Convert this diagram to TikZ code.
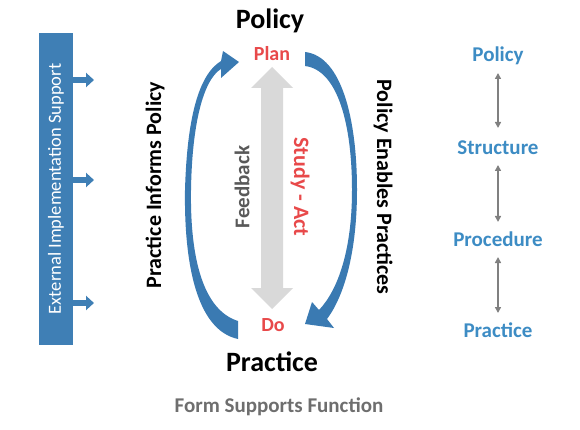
\documentclass[tikz,border=0pt]{standalone}
\usepackage{fontspec}
\setmainfont{Carlito}
\usetikzlibrary{arrows.meta}
\definecolor{barblue}{HTML}{3F7FB5}
\definecolor{arcblue}{HTML}{3A7AB2}
\definecolor{lblblue}{HTML}{3D8CC4}
\definecolor{redtxt}{HTML}{E8494A}
\definecolor{lgray}{HTML}{D9D9D9}
\definecolor{dgray}{HTML}{595959}
\definecolor{mgray}{HTML}{6E6E6E}
\definecolor{agray}{HTML}{808080}
\tikzset{
  big/.style={font=\bfseries\fontsize{28}{30}\selectfont, text=black},
  pdsa/.style={font=\bfseries\fontsize{20}{22}\selectfont, text=redtxt},
  side/.style={font=\bfseries\fontsize{22}{24}\selectfont, text=black},
  lvl/.style={font=\bfseries\fontsize{21}{23}\selectfont, text=lblblue},
  lvlarrow/.style={draw=agray, line width=1.8pt, {Triangle[width=6pt,length=6pt]}-{Triangle[width=6pt,length=6pt]}},
  barrow/.style={draw=barblue, line width=6pt, -{Triangle[width=14pt,length=8pt]}},
  arcshape/.style={fill=arcblue},
}
\begin{document}
\begin{tikzpicture}[x=1pt,y=-1pt]
\useasboundingbox (0,0) rectangle (580,430);
% external support bar
\node[fill=barblue, minimum width=34pt, minimum height=312pt, inner sep=0pt] (bar) at (56,189) {};
\node[rotate=90, text=white, font=\fontsize{18.5}{20}\selectfont] (ext) at (bar.center) {External Implementation Support};
\coordinate (e1) at (94,80);
\coordinate (e2) at (94,180);
\coordinate (e3) at (94,303);
\draw[barrow] (bar.east |- e1) -- (e1);
\draw[barrow] (bar.east |- e2) -- (e2);
\draw[barrow] (bar.east |- e3) -- (e3);
% titles
\node[big] (policy) at (270,21) {Policy};
\node[big] (practice) at (272,362) {Practice};
\node[pdsa] (plan) at (272,54) {Plan};
\node[pdsa] (do) at (273,325) {Do};
\node[font=\bfseries\fontsize{21}{23}\selectfont, text=mgray] (form) at (279,407) {Form Supports Function};
% feedback double arrow
\fill[lgray] (272,67) -- (293,88) -- (283,88) -- (283,288) -- (293,288) -- (272,309) -- (251,288) -- (261,288) -- (261,88) -- (251,88) -- cycle;
\node[rotate=90, font=\bfseries\fontsize{21}{23}\selectfont, text=dgray] (fb) at (242,187) {Feedback};
\node[rotate=-90, pdsa, font=\bfseries\fontsize{22}{24}\selectfont] (sa) at (300,187) {Study - Act};
% curved arrows (tapered)
\fill[arcshape] (238,339) .. controls (196,330) and (184,262) .. (185,190)
  .. controls (187,120) and (198,75) .. (221,61) -- (223,51) -- (239,62) -- (221,78) -- (221,69)
  .. controls (203,80) and (192,125) .. (191,190)
  .. controls (190,258) and (203,310) .. (238,321) -- cycle;
\fill[arcshape] (305,52) .. controls (342,56) and (357,120) .. (357,190)
  .. controls (357,250) and (345,295) .. (327,319) -- (334,328) -- (305,324) -- (312,302) -- (319,310)
  .. controls (338,290) and (352,250) .. (352,190)
  .. controls (352,125) and (338,70) .. (305,66) -- cycle;
\node[rotate=90, side] (pip) at (155,185) {Practice Informs Policy};
\node[rotate=-90, side] (pep) at (383,187) {Policy Enables Practices};
% levels
\node[lvl] (l1) at (498,56) {Policy};
\node[lvl] (l2) at (498,148) {Structure};
\node[lvl] (l3) at (498,239) {Procedure};
\node[lvl] (l4) at (498,330) {Practice};
\coordinate (a1t) at (498,73); \coordinate (a1b) at (498,128);
\coordinate (a2t) at (498,165); \coordinate (a2b) at (498,222);
\coordinate (a3t) at (498,257); \coordinate (a3b) at (498,313);
\draw[lvlarrow] (a1t) -- (a1b);
\draw[lvlarrow] (a2t) -- (a2b);
\draw[lvlarrow] (a3t) -- (a3b);
\end{tikzpicture}
\end{document}
